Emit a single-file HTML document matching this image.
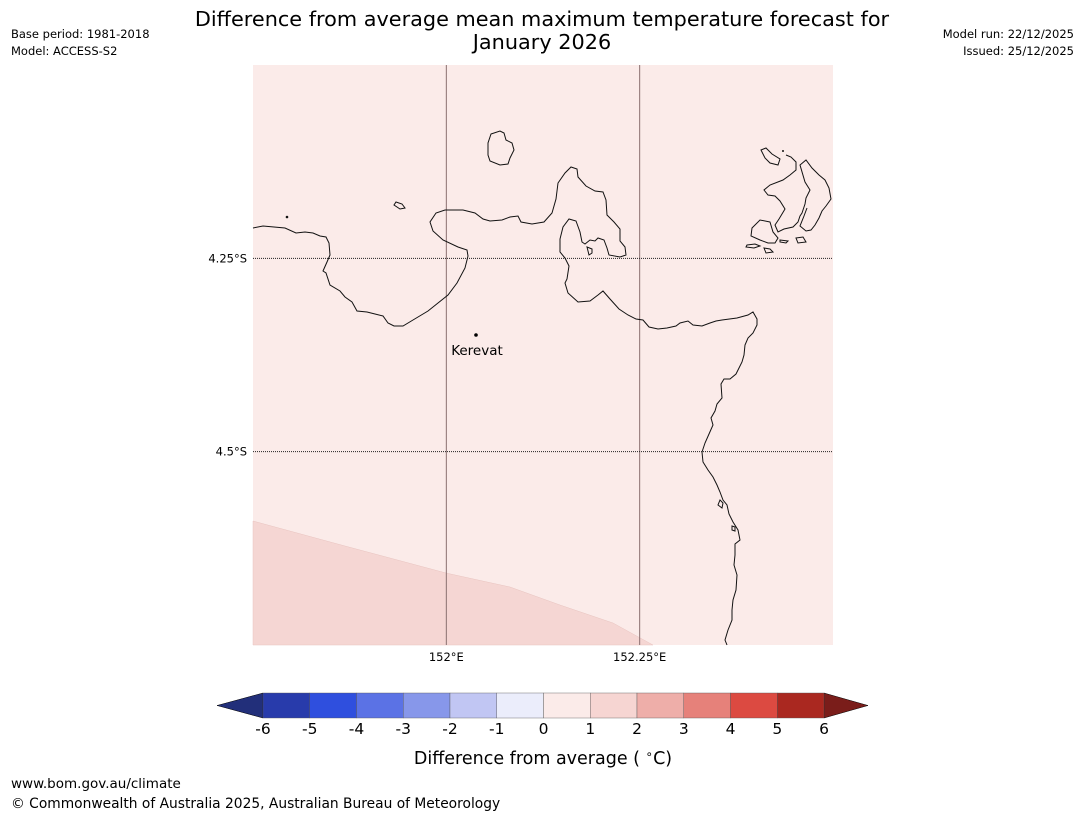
<!DOCTYPE html>
<html><head><meta charset="utf-8"><style>
body{margin:0;width:1085px;height:816px;background:#fff;font-family:"Liberation Sans","DejaVu Sans",sans-serif;overflow:hidden}
svg{position:absolute;left:0;top:0}
</style></head><body>
<svg width="1085" height="816" font-family="DejaVu Sans, Liberation Sans, sans-serif">
<text x="542" y="26" font-size="20.8" text-anchor="middle">Difference from average mean maximum temperature forecast for</text>
<text x="542" y="49" font-size="20.8" text-anchor="middle">January 2026</text>
<text x="11" y="38" font-size="11.5">Base period: 1981-2018</text>
<text x="11" y="55" font-size="11.5">Model: ACCESS-S2</text>
<text x="1074" y="38" font-size="11.5" text-anchor="end">Model run: 22/12/2025</text>
<text x="1074" y="55" font-size="11.5" text-anchor="end">Issued: 25/12/2025</text>
<g>
<rect x="253" y="65" width="580" height="580" fill="#fbebe9"/>
<polygon points="253,521 345,546 446,573 510,587 560,605 613,623 653,645 253,645" fill="#f5d6d3" stroke="#e8c4c0" stroke-width="0.5"/>
<g id="grid"></g>
<g fill="none" stroke="#111" stroke-width="1">
<path d="M253,228 L263,226 285,228 296,233 305,232 313,233 320,236 326,237 329,243 330,255 327,262 323,271 326,273 330,285 340,291 345,297 352,302 357,311 367,312 375,314 383,316 388,323 394,326 403,326 413,320 428,311 438,303 448,295 457,283 465,268 468,256 467,250 458,247 443,240 433,231 430,222 436,213 445,210 463,210 475,213 483,219 490,221 502,220 510,217 518,216 521,222 532,224 544,222 552,213 556,199 558,183 565,173 571,167 577,169 578,177 586,186 595,191 603,192 606,200 607,215 614,222 620,229 620,241 625,247 626,255 620,257 609,255 607,248 604,240 598,238 595,241 590,240 585,244 582,242 580,232 576,221 569,219 563,227 560,239 560,252 565,258 569,266 567,279 565,283 568,293 578,302 590,301 598,295 603,291 610,299 619,309 628,315 636,319 643,320 649,327 658,329 667,328 676,326 680,323 688,321 693,325 702,326 710,323 716,321 722,320 737,318 748,315 753,312 757,319 757,325 753,333 748,338 745,345 744,355 742,362 736,374 730,379 724,379 721,384 722,398 717,404 715,411 711,418 713,425 709,434 705,443 702,452 703,462 708,470 713,477 717,485 720,492 723,500 727,505 729,514 733,522 738,530 740,540 735,544 735,555 734,565 737,575 736,590 733,600 732,610 732,620 728,630 725,640 727,645"/>
<path d="M491,134 L500,131 504,133 506,140 512,143 514,150 510,158 508,164 500,165 490,161 488,155 488,143 Z"/>
<path d="M396,202 L402,204 405,208 400,209 394,205 Z"/>
<path d="M587,247 L592,249 592,253 589,255 Z"/>
<path d="M761,150 L766,148 772,154 780,159 778,165 770,163 765,158 Z"/>
<path d="M786,155 L791,157 796,162 796,170 790,175 783,180 770,185 764,190 768,195 775,196 780,201 785,209 779,219 775,225 778,232 784,229 793,227 798,222 800,216 802,213 805,204 806,198 810,190 805,182 800,165 806,160 812,168 819,175 825,180 829,188 831,199 826,206 822,211 819,218 815,225 811,230 806,231 800,226 804,216 807,208"/>
<path d="M770,222 L760,220 752,228 751,236 760,240 768,243 775,243 778,238 773,232 Z"/>
<path d="M747,245 L755,244 760,246 754,248 746,247 Z"/>
<path d="M764,248 L770,249 773,252 766,253 Z"/>
<path d="M780,240 L788,241 786,243 780,242 Z"/>
<path d="M796,238 L803,237 806,242 798,243 Z"/>
<path d="M720,500 L723,503 722,508 718,505 Z"/>
<path d="M732,526 L735,527 735,531 732,530 Z"/>
</g>
<circle cx="287" cy="217" r="1.3" fill="#111"/>
<circle cx="783" cy="151" r="1" fill="#111"/>
<circle cx="476" cy="335" r="1.8" fill="#000"/>
<text x="477" y="355" font-size="13.5" text-anchor="middle">Kerevat</text>
</g>
<g id="axes"></g>
<g id="cbar"></g>
<text x="543" y="764" font-size="17.5" text-anchor="middle">Difference from average ( <tspan font-size="12" dy="-6">∘</tspan><tspan dy="6">C)</tspan></text>
<text x="11" y="788" font-size="13.5">www.bom.gov.au/climate</text>
<text x="11" y="808" font-size="13.8">© Commonwealth of Australia 2025, Australian Bureau of Meteorology</text>
</svg>
<script>
const lonTicks=[152,152.25];
const lonLabels=["152°E","152.25°E"];
const latTicks=[4.25,4.5];
const latLabels=["4.25°S","4.5°S"];
const cbarBounds=[-6,-5,-4,-3,-2,-1,0,1,2,3,4,5,6];
const cbarColors=["#283bab","#2f4fde","#5b72e5","#8797ea","#c1c6f3","#ebedfb","#fbebe9","#f6d5d2","#eeaea9","#e6817a","#dc4a41","#aa2820"];
const NS="http://www.w3.org/2000/svg";
const lon0=151.75,lon1=152.5,lat0=4.0,lat1=4.75,mx=253,my=65,mw=580,mh=580;
const xs=v=>mx+(v-lon0)/(lon1-lon0)*mw;
const ys=v=>my+(v-lat0)/(lat1-lat0)*mh;
function mk(tag,attrs,parent){const e=document.createElementNS(NS,tag);for(const k in attrs)e.setAttribute(k,attrs[k]);parent.appendChild(e);return e;}
const grid=document.getElementById('grid'),axes=document.getElementById('axes');
lonTicks.forEach((v,i)=>{
 const l=mk('line',{x1:xs(v),x2:xs(v),y1:my,y2:my+mh,stroke:'#8a7070','stroke-width':1},grid);
 
 
 const t=mk('text',{x:xs(v),y:my+mh+16,'font-size':11.5,'text-anchor':'middle'},axes);t.textContent=lonLabels[i];
 
 
});
latTicks.forEach((v,i)=>{
 const l=mk('line',{x1:mx,x2:mx+mw,y1:ys(v),y2:ys(v),stroke:'#222','stroke-width':1,'stroke-dasharray':'1,1'},grid);
 
 
 const t=mk('text',{x:mx-6,y:ys(v)+4,'font-size':11.5,'text-anchor':'end'},axes);t.textContent=latLabels[i];
 
 
});
const cb=document.getElementById('cbar');
const cx0=263,cx1=824,cy=693,ch=25,n=cbarColors.length;
const cxs=v=>cx0+(v-cbarBounds[0])/(cbarBounds[n]-cbarBounds[0])*(cx1-cx0);
const lt=mk('polygon',{points:`${cx0},${cy} ${cx0},${cy+ch} 217,${cy+ch/2}`,fill:'#222f7a',stroke:'#000','stroke-width':0.5},cb);


const rt=mk('polygon',{points:`${cx1},${cy} ${cx1},${cy+ch} 868,${cy+ch/2}`,fill:'#7a1d1a',stroke:'#000','stroke-width':0.5},cb);


cbarColors.forEach((c,i)=>{
 const r=mk('rect',{x:cxs(cbarBounds[i]),y:cy,width:cxs(cbarBounds[i+1])-cxs(cbarBounds[i]),height:ch,fill:c,stroke:'#555','stroke-width':0.4},cb);
 
 
});
cbarBounds.forEach(v=>{
 const t=mk('text',{x:cxs(v),y:cy+ch+16,'font-size':15.5,'text-anchor':'middle'},cb);t.textContent=String(v);
 
 
});
</script>
</body></html>
